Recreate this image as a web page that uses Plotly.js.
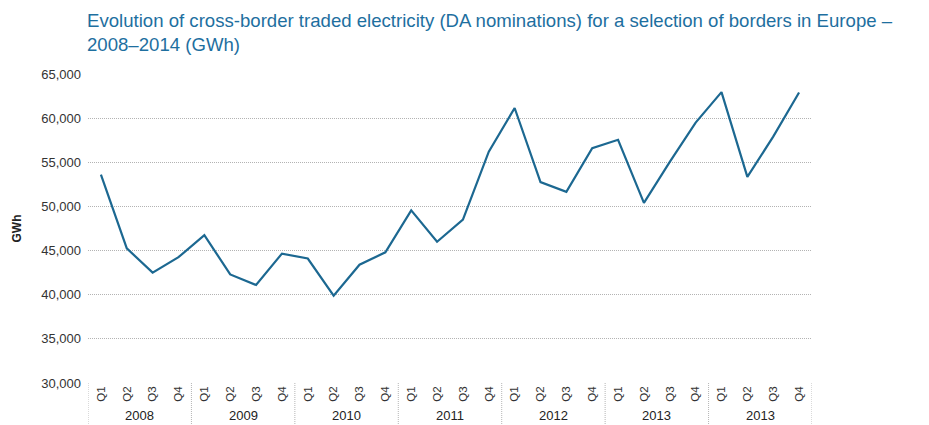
<!DOCTYPE html>
<html>
<head>
<meta charset="utf-8">
<script src="https://cdn.plot.ly/plotly-3.0.1.min.js"></script>
<style>html,body{margin:0;padding:0;background:#fff}#chart{width:929px;height:425px}</style>
</head>
<body>
<div id="chart"></div>
<script>
const years = ["2008", "2009", "2010", "2011", "2012", "2013", "2013"];
const quarters = ["Q1", "Q2", "Q3", "Q4"];
const values = [
  53600, 45250, 42500, 44250,
  46750, 42300, 41100, 44650,
  44100, 39900, 43400, 44800,
  49550, 46000, 48500, 56200,
  61150, 52750, 51650, 56600,
  57550, 50400, 55050, 59500,
  62950, 53350, 57900, 62900
];
const titleLines = [
  "Evolution of cross-border traded electricity (DA nominations) for a selection of borders in Europe –",
  "2008–2014 (GWh)"
];

const n = values.length;
const xs = values.map((v, i) => i);
const tickText = values.map((v, i) => quarters[i % quarters.length]);
const perYear = quarters.length;
const FONT = 'Liberation Sans, Arial, sans-serif';

const annotations = years.map((y, k) => ({
  x: k * perYear + (perYear - 1) / 2,
  xref: 'x', yref: 'paper', y: -0.105, yanchor: 'middle',
  text: y, showarrow: false,
  font: {family: FONT, size: 13, color: '#222'}
}));
annotations.push({
  xref: 'paper', yref: 'paper', x: -0.004, xanchor: 'left',
  y: 1 + 42 / 309, yanchor: 'middle',
  text: titleLines.join('<br>'), align: 'left', showarrow: false,
  font: {family: FONT, size: 18.6, color: '#1e6f9f'}
});

const shapes = [];
for (let k = 0; k <= years.length; k++) {
  shapes.push({
    type: 'line', xref: 'x', yref: 'paper',
    x0: k * perYear - 0.5, x1: k * perYear - 0.5,
    y0: 0, y1: -0.16,
    line: {color: '#b5b5b5', width: 1, dash: '1px,1px'}
  });
}

const trace = {
  x: xs, y: values, type: 'scatter', mode: 'lines',
  line: {color: '#1c6891', width: 2.2},
  hoverinfo: 'y'
};

const layout = {
  width: 929, height: 425,
  margin: {l: 88, r: 117, t: 74, b: 42},
  paper_bgcolor: '#fff', plot_bgcolor: '#fff',
  showlegend: false,
  xaxis: {
    range: [-0.5, n - 0.5],
    tickmode: 'array', tickvals: xs, ticktext: tickText,
    tickangle: -90,
    tickfont: {family: FONT, size: 11.5, color: '#333'},
    showgrid: false, zeroline: false, showline: false, ticks: '',
    fixedrange: true
  },
  yaxis: {
    range: [30000, 65000],
    tickvals: [30000, 35000, 40000, 45000, 50000, 55000, 60000, 65000],
    tickformat: ',d',
    tickfont: {family: FONT, size: 13, color: '#333'},
    showgrid: true, gridcolor: '#b3b3b3', griddash: '1px,1px', gridwidth: 1,
    zeroline: false, showline: false, ticks: '', ticklabelstandoff: 6,
    title: {text: '<b>GWh</b>', standoff: 17, font: {family: FONT, size: 12, color: '#222'}},
    fixedrange: true
  },
  annotations: annotations,
  shapes: shapes
};

Plotly.newPlot('chart', [trace], layout, {displayModeBar: false, staticPlot: true});
</script>
</body>
</html>
